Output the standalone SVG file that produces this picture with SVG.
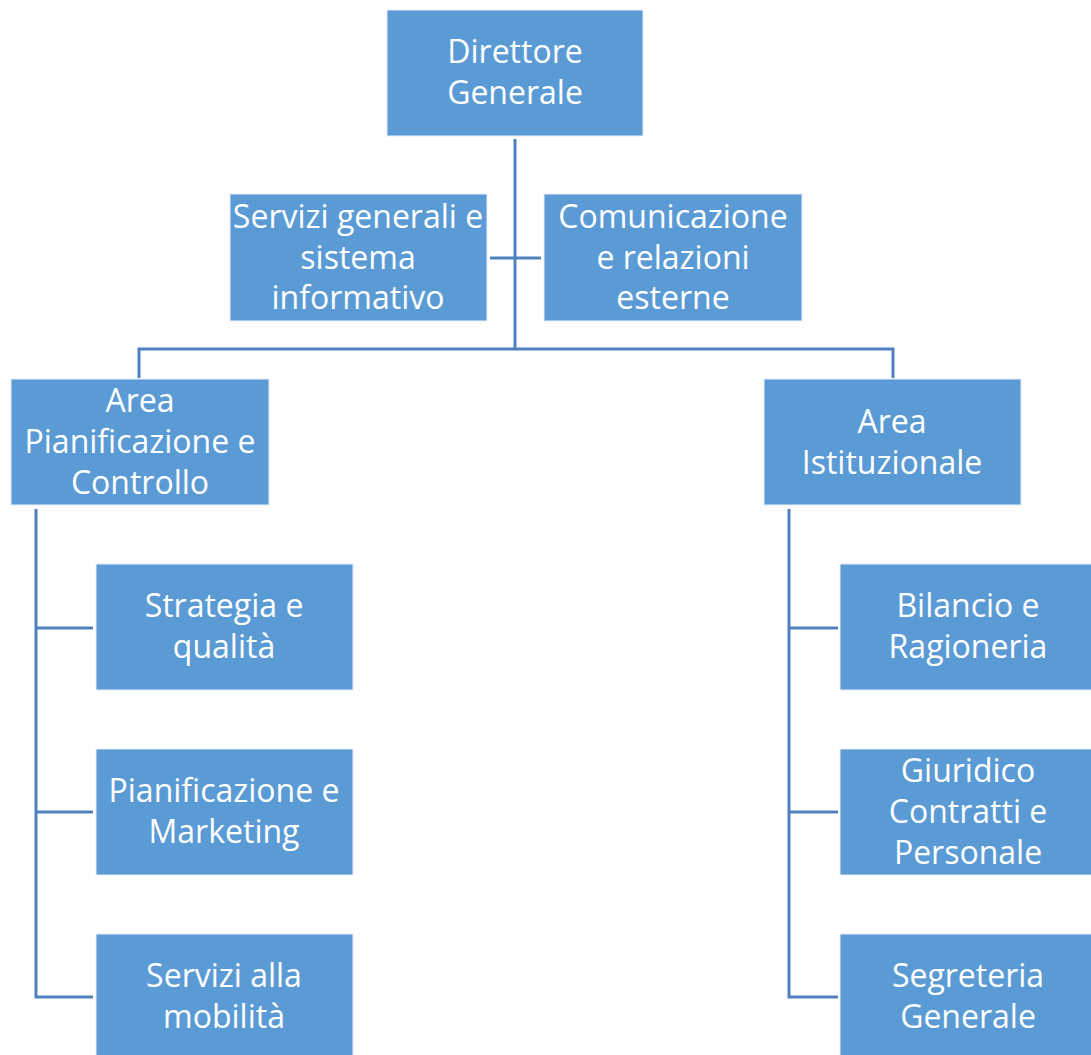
<svg xmlns="http://www.w3.org/2000/svg" width="1091" height="1055" viewBox="0 0 1091 1055">
<style>
.box{fill:#5B9BD5;stroke:#e8eef7;stroke-width:1}
.t{font-family:"Open Sans","Noto Sans",sans-serif;font-size:32px;fill:#ffffff;text-anchor:middle}
.c{stroke:#4F81BD;stroke-width:3;fill:none}
</style>
<rect width="1091" height="1055" fill="#ffffff"/>
<g id="connectors">
<path class="c" d="M515 139 V349"/>
<path class="c" d="M490 258 H541"/>
<path class="c" d="M139 378 V349 H893 V378"/>
<path class="c" d="M36 509 V997 H93 M36 628 H93 M36 812 H93"/>
<path class="c" d="M789 509 V997 H838 M789 628 H838 M789 812 H838"/>
</g>
<g id="direttore"><rect class="box" x="387" y="10" width="256" height="126"/><text class="t" x="515" y="63">Direttore</text><text class="t" x="515" y="104">Generale</text></g>
<g id="servizi-generali"><rect class="box" x="230" y="194" width="257" height="127"/><text class="t" x="358" y="228">Servizi generali e</text><text class="t" x="358" y="269">sistema</text><text class="t" x="358" y="309">informativo</text></g>
<g id="comunicazione"><rect class="box" x="544" y="194" width="258" height="127"/><text class="t" x="673" y="228">Comunicazione</text><text class="t" x="673" y="269">e relazioni</text><text class="t" x="673" y="309">esterne</text></g>
<g id="area-pianificazione"><rect class="box" x="11" y="379" width="258" height="126"/><text class="t" x="140" y="412">Area</text><text class="t" x="140" y="453">Pianificazione e</text><text class="t" x="140" y="494">Controllo</text></g>
<g id="area-istituzionale"><rect class="box" x="764" y="379" width="257" height="126"/><text class="t" x="892" y="433">Area</text><text class="t" x="892" y="474">Istituzionale</text></g>
<g id="strategia"><rect class="box" x="96" y="564" width="257" height="126"/><text class="t" x="224" y="617">Strategia e</text><text class="t" x="224" y="658">qualità</text></g>
<g id="pianificazione-marketing"><rect class="box" x="96" y="749" width="257" height="126"/><text class="t" x="224" y="802">Pianificazione e</text><text class="t" x="224" y="843">Marketing</text></g>
<g id="servizi-mobilita"><rect class="box" x="96" y="934" width="257" height="126"/><text class="t" x="224" y="987">Servizi alla</text><text class="t" x="224" y="1028">mobilità</text></g>
<g id="bilancio"><rect class="box" x="840" y="564" width="252" height="126"/><text class="t" x="968" y="617">Bilancio e</text><text class="t" x="968" y="658">Ragioneria</text></g>
<g id="giuridico"><rect class="box" x="840" y="749" width="252" height="126"/><text class="t" x="968" y="782">Giuridico</text><text class="t" x="968" y="823">Contratti e</text><text class="t" x="968" y="864">Personale</text></g>
<g id="segreteria"><rect class="box" x="840" y="934" width="252" height="126"/><text class="t" x="968" y="987">Segreteria</text><text class="t" x="968" y="1028">Generale</text></g>
</svg>
